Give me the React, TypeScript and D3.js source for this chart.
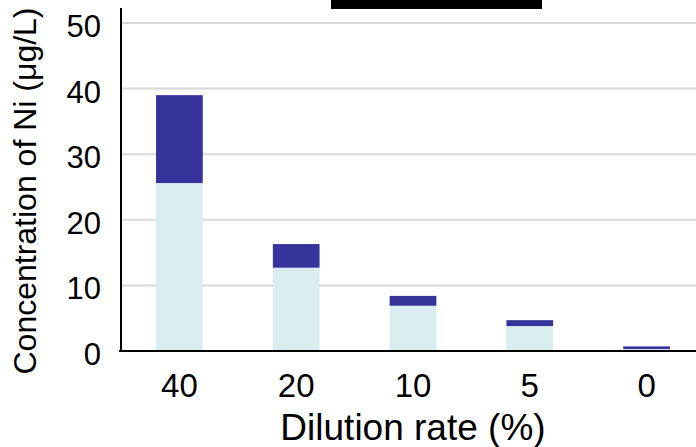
import React from "react";
import * as d3 from "d3";

const categories = ["40", "20", "10", "5", "0"];
const lowerValues = [25.6, 12.7, 6.9, 3.8, 0.3];
const upperValues = [13.4, 3.6, 1.5, 0.9, 0.4];
const yTicks = [0, 10, 20, 30, 40, 50];

const W = 696;
const H = 447;
const left = 121;
const bottom = 351;

const App = () => {
  const x = d3.scaleBand().domain(categories).range([left, 705]).paddingInner(0.6).paddingOuter(0.3);
  const y = d3.scaleLinear().domain([0, 50]).range([bottom, 23]);
  const font = "Liberation Sans, Arial, sans-serif";

  return (
    <svg width={W} height={H} style={{ position: "absolute", left: 0, top: 0, background: "#fff" }}>
      <rect x={331} y={0} width={211} height={9} fill="#000" />
      {yTicks.filter((t) => t > 0).map((t) => (
        <line key={t} x1={left} x2={W} y1={y(t)} y2={y(t)} stroke="#d9d9d9" strokeWidth={2} />
      ))}
      {categories.map((c, i) => {
        const total = lowerValues[i] + upperValues[i];
        return (
          <g key={c}>
            <rect x={x(c)} width={x.bandwidth()} y={y(lowerValues[i])} height={y(0) - y(lowerValues[i])} fill="#d9ecef" />
            <rect x={x(c)} width={x.bandwidth()} y={y(total)} height={y(lowerValues[i]) - y(total)} fill="#36349a" />
          </g>
        );
      })}
      <line x1={left} x2={left} y1={8} y2={bottom + 1} stroke="#000" strokeWidth={2} />
      <line x1={left - 2} x2={W} y1={bottom} y2={bottom} stroke="#000" strokeWidth={2} />
      {yTicks.map((t) => (
        <text key={t} x={101} y={y(t) + 14} textAnchor="end" fontFamily={font} fontSize={31} fill="#000">
          {t}
        </text>
      ))}
      {categories.map((c) => (
        <text key={c} x={(x(c) ?? 0) + x.bandwidth() / 2} y={397} textAnchor="middle" fontFamily={font} fontSize={33} fill="#000">
          {c}
        </text>
      ))}
      <text x={413} y={440} textAnchor="middle" fontFamily={font} fontSize={37} fill="#000">
        Dilution rate (%)
      </text>
      <text transform="translate(36,191) rotate(-90)" textAnchor="middle" fontFamily={font} fontSize={32} fill="#000">
        Concentration of Ni (μg/L)
      </text>
    </svg>
  );
};

export default App;
